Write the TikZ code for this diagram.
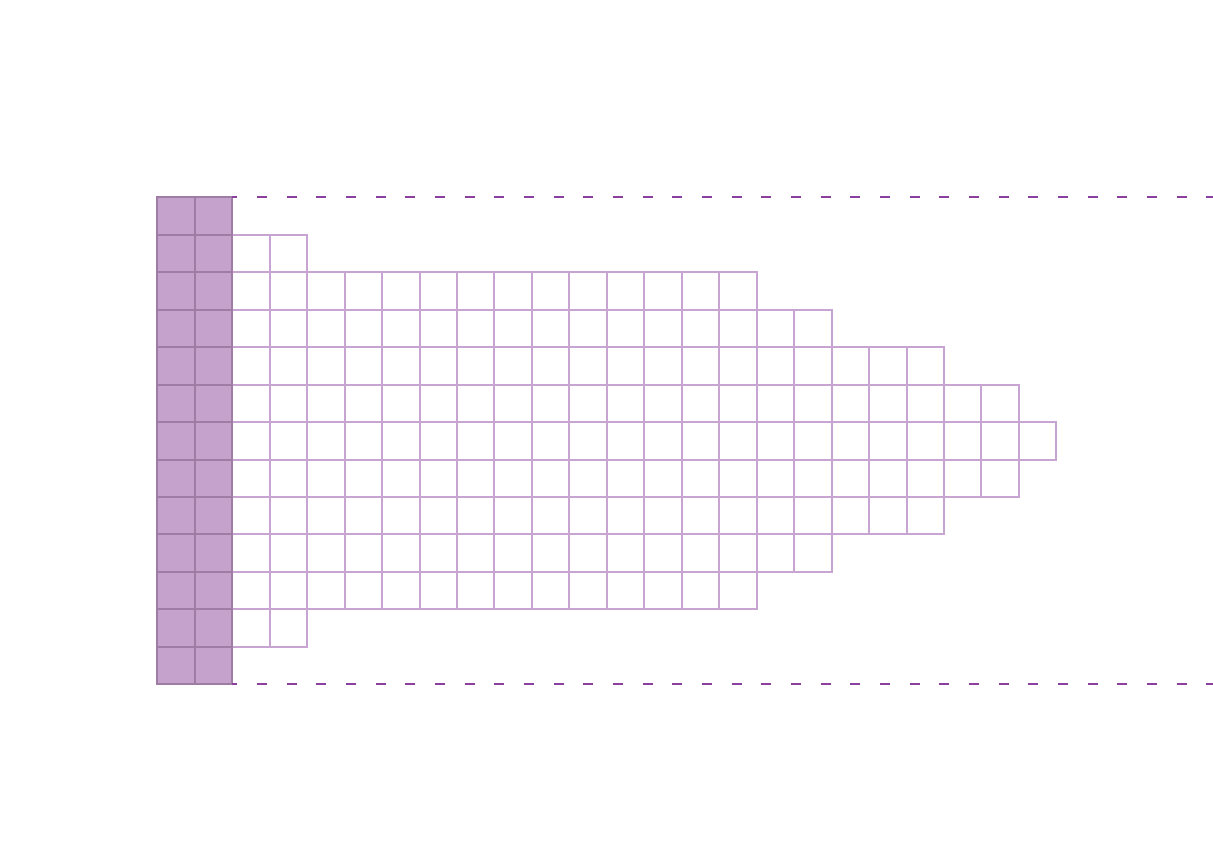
\documentclass[tikz,border=0pt]{standalone}
\usepackage{tikz}
\definecolor{cellfill}{HTML}{C4A2CB}
\definecolor{cellborder}{HTML}{9E7CA4}
\definecolor{gridline}{HTML}{C8A4D3}
\definecolor{dashcol}{HTML}{8B40A0}
\tikzset{
  emptycell/.style={draw=gridline, line width=2pt, fill=white},
  fullcell/.style={draw=cellborder, line width=2pt, fill=cellfill},
  bound/.style={draw=dashcol, line width=2pt, dash pattern=on 10pt off 19.67pt, dash phase=5pt}
}
\begin{document}
\begin{tikzpicture}[x=1pt,y=-1pt]
\useasboundingbox (0,0) rectangle (1213,862);
\def\cs{37.46}
\def\xo{157.3}
\def\yo{197.3}
% white cells
\foreach \r/\n in {1/2,2/14,3/16,4/19,5/21,6/22,7/21,8/19,9/16,10/14,11/2}{
  \foreach \k in {1,...,\n}{
    \pgfmathsetmacro\xa{\xo+(\k+1)*\cs}
    \pgfmathsetmacro\ya{\yo+\r*\cs}
    \draw[emptycell] (\xa,\ya) rectangle ++(\cs,\cs);
  }
}
% filled columns
\foreach \r in {0,...,12}{
  \foreach \k in {0,1}{
    \pgfmathsetmacro\xa{\xo+\k*\cs}
    \pgfmathsetmacro\ya{\yo+\r*\cs}
    \draw[fullcell] (\xa,\ya) rectangle ++(\cs,\cs);
  }
}
\coordinate (tl) at (232.2,197.3);
\coordinate (tr) at (1213,197.3);
\coordinate (bl) at (232.2,684.3);
\coordinate (br) at (1213,684.3);
\draw[bound] (tl) -- (tr);
\draw[bound] (bl) -- (br);
\end{tikzpicture}
\end{document}
